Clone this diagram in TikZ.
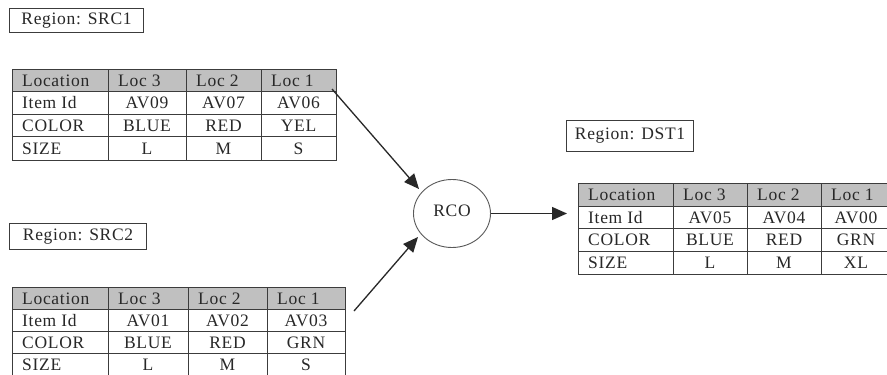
\documentclass[tikz,border=0pt]{standalone}
\usepackage{fontspec}
\setmainfont{Liberation Serif}[LetterSpace=4]
\usetikzlibrary{arrows.meta,shapes.geometric}
\definecolor{hdr}{RGB}{192,192,192}
\definecolor{ink}{RGB}{40,40,40}
\definecolor{rulec}{RGB}{60,60,60}
\tikzset{
  txt/.style={font=\fontsize{17.5}{20}\selectfont, text=ink, inner sep=0pt},
  lbl/.style={draw=rulec, line width=1.1pt, anchor=north west,
    inner xsep=0pt, inner ysep=0pt, font=\fontsize{17.5}{20}\selectfont, text=ink},
  cellbox/.style={draw=rulec, line width=1pt},
  arr/.style={draw=ink, line width=1.3pt, -{Triangle[length=15pt,width=13pt]}},
}
\newcommand\mktable[4]{%
  \foreach \rowlist [count=\ri] in {#4} {%
    \foreach \entry [count=\ci] in \rowlist {%
      \pgfmathsetmacro\xa{{#2}[\ci-1]}%
      \pgfmathsetmacro\xb{{#2}[\ci]}%
      \pgfmathsetmacro\ya{{#3}[\ri-1]}%
      \pgfmathsetmacro\yb{{#3}[\ri]}%
      \ifnum\ri=1 \def\cf{hdr}\else\def\cf{white}\fi
      \path[cellbox, fill=\cf] (\xa,\ya) rectangle (\xb,\yb);
      \pgfmathsetmacro\yt{(\ya+\yb)/2+6}%
      \pgfmathtruncatemacro\lft{or(\ci==1,\ri==1)}%
      \ifnum\lft=1
        \node[txt, anchor=base west] (#1-\ri-\ci) at (\xa+10,\yt) {\entry};
      \else
        \node[txt, anchor=base] (#1-\ri-\ci) at ({(\xa+\xb)/2},\yt) {\entry};
      \fi
    }%
  }%
}
\begin{document}
\begin{tikzpicture}[x=1pt,y=-1pt]
\clip (0,0) rectangle (887,375);
\fill[white] (0,0) rectangle (887,375);

% region labels
\node[lbl, minimum width=134pt, minimum height=24pt] (src1) at (9,8) {Region: SRC1};
\node[lbl, minimum width=137pt, minimum height=26pt] (src2) at (9,223) {Region: SRC2};
\node[lbl, minimum width=127pt, minimum height=31pt] (dst1) at (566,120) {Region: DST1};

% tables
\mktable{ta}{12,108,186,261,336}{69,91.5,114,136.5,160}{%
  {Location,Loc 3,Loc 2,Loc 1},{Item Id,AV09,AV07,AV06},{COLOR,BLUE,RED,YEL},{SIZE,L,M,S}}
\mktable{tb}{12,108,188,267,345}{287,309,331,353,375.5}{%
  {Location,Loc 3,Loc 2,Loc 1},{Item Id,AV01,AV02,AV03},{COLOR,BLUE,RED,GRN},{SIZE,L,M,S}}
\mktable{tc}{578,673,747,821,891}{183,206,228.5,251,274}{%
  {Location,Loc 3,Loc 2,Loc 1},{Item Id,AV05,AV04,AV00},{COLOR,BLUE,RED,GRN},{SIZE,L,M,XL}}

% process
\node[ellipse, draw=black!65, line width=0.9pt, minimum width=77pt, minimum height=68pt,
  inner sep=0pt, text depth=5pt, font=\fontsize{17.5}{20}\selectfont, text=ink] (rco) at (452,213.5) {RCO};

% connectors
\coordinate (s1) at (332,89);
\coordinate (t1) at (419,189);
\coordinate (s2) at (354,311);
\coordinate (t2) at (418,237);
\coordinate (t3) at (567,213.5);
\draw[arr] (s1) -- (t1);
\draw[arr] (s2) -- (t2);
\draw[arr] (rco.east) -- (t3);
\end{tikzpicture}
\end{document}
